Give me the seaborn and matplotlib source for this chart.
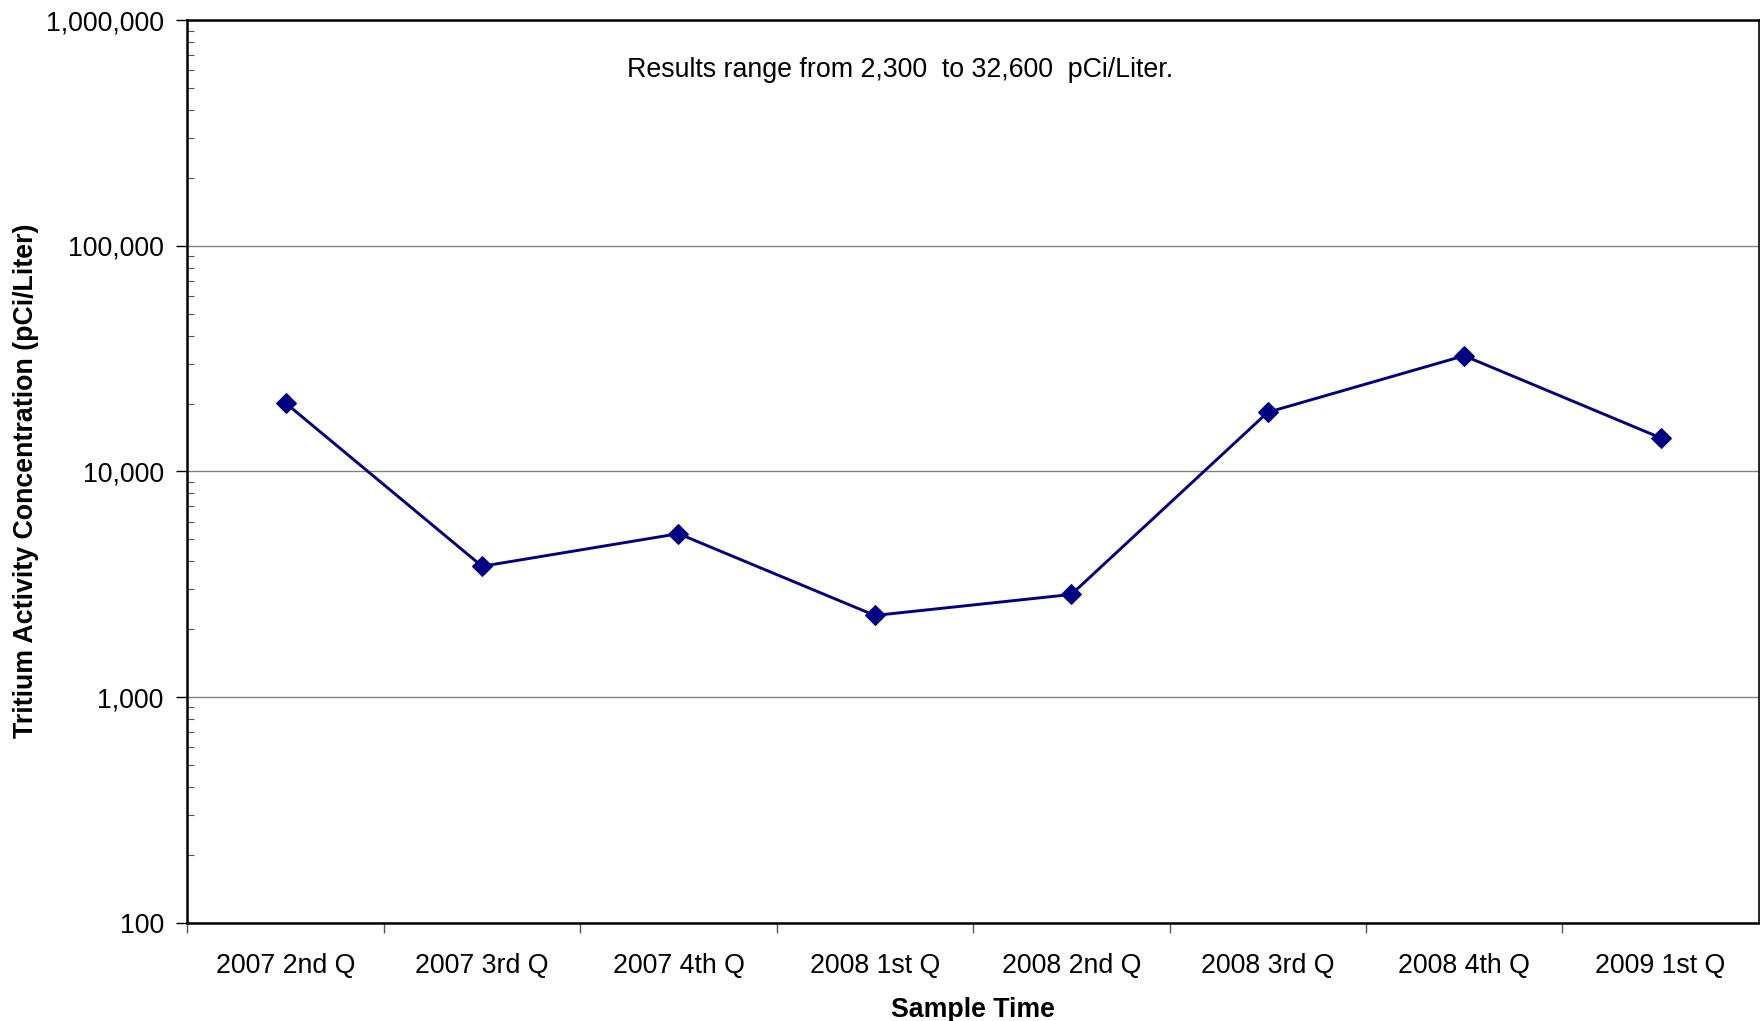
import seaborn as sns
import matplotlib.pyplot as plt
import matplotlib.ticker as mticker
import numpy as np
import pandas as pd

# data
quarters = ["2007 2nd Q", "2007 3rd Q", "2007 4th Q", "2008 1st Q",
            "2008 2nd Q", "2008 3rd Q", "2008 4th Q", "2009 1st Q"]
tritium = [20100, 3800, 5300, 2300, 2850, 18300, 32600, 14100]

df = pd.DataFrame({"Quarter": quarters, "Tritium": tritium})

sns.set_style("white")
plt.rcParams["font.family"] = ["Liberation Sans", "DejaVu Sans"]
plt.rcParams["text.color"] = "black"
plt.rcParams["axes.labelcolor"] = "black"
plt.rcParams["xtick.color"] = "black"
plt.rcParams["ytick.color"] = "black"

fs = 19.3

fig = plt.figure(figsize=(17.6, 10.21), dpi=100)
ax = fig.add_axes([0.1065, 0.0964, 0.8928, 0.8836])

sns.lineplot(data=df, x="Quarter", y="Tritium", ax=ax, color="#000080",
             linewidth=2.1, marker="D", markersize=10, markeredgecolor="#000080",
             sort=False)

ax.set_yscale("log")
ax.set_ylim(100, 1000000)
ax.set_xlim(-0.5, len(quarters) - 0.5)

# y axis: major ticks outside, minor ticks inside
ax.yaxis.set_major_locator(mticker.LogLocator(base=10))
ax.yaxis.set_minor_locator(mticker.LogLocator(base=10, subs=np.arange(2, 10)))
ax.yaxis.set_minor_formatter(mticker.NullFormatter())
ax.yaxis.set_major_formatter(mticker.FuncFormatter(lambda v, p: f"{v:,.0f}"))
ax.tick_params(axis="y", which="major", direction="out", length=8, width=1,
               labelsize=fs, pad=9, left=True)
ax.tick_params(axis="y", which="minor", direction="in", length=5, width=0.8,
               left=True, color="#555555")
ax.grid(axis="y", which="major", color="#808080", linewidth=1)
ax.set_axisbelow(True)

# x axis: ticks at category boundaries, labels at centers
ax.set_xticks(np.arange(len(quarters)) - 0.5)
ax.set_xticklabels([])
ax.set_xticks(np.arange(len(quarters)), minor=True)
ax.set_xticklabels(quarters, minor=True)
ax.tick_params(axis="x", which="major", direction="out", length=7, width=1,
               bottom=True, color="#555555")
ax.tick_params(axis="x", which="minor", length=0, labelsize=fs, pad=22)

for side in ["left", "bottom", "top"]:
    ax.spines[side].set_linewidth(1.8)
    ax.spines[side].set_color("black")
ax.spines["right"].set_linewidth(1.2)
ax.spines["right"].set_color("black")

ax.set_xlabel("Sample Time", fontsize=fs, fontweight="bold", labelpad=13)
ax.set_ylabel("Tritium Activity Concentration (pCi/Liter)", fontsize=fs,
              fontweight="bold")
ax.yaxis.set_label_coords(-0.0945, 0.49)

ax.text(0.2797, 0.945, "Results range from 2,300  to 32,600  pCi/Liter.",
        transform=ax.transAxes, fontsize=fs, ha="left", va="center")

fig.savefig("out.png", dpi=100)
